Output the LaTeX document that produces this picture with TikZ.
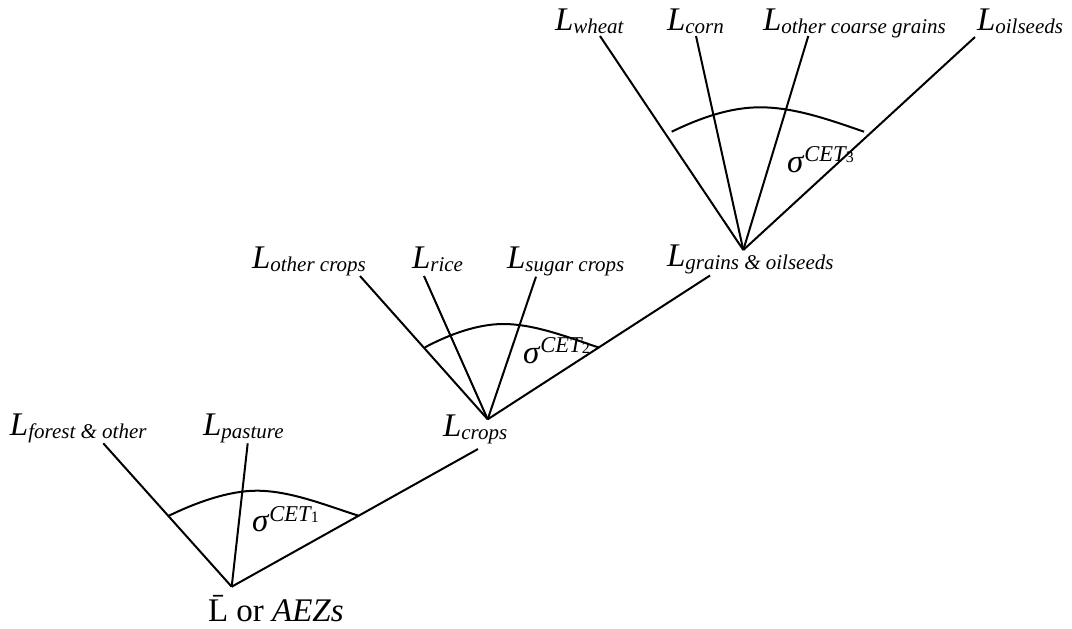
\documentclass[tikz,border=0pt]{standalone}
\usepackage{fontspec}
\setmainfont{Liberation Serif}
\newcommand\Lsub[1]{\textit{L}\raisebox{-1.5pt}{\fontsize{10.5}{12}\selectfont\itshape #1}}
\newcommand\sigcet[1]{\textit{σ}\raisebox{5.3pt}{\fontsize{11.3}{13}\selectfont\itshape CET\raisebox{-0.7pt}{\fontsize{8}{9}\selectfont\upshape #1}}}
\begin{document}
\begin{tikzpicture}[x=0.5pt,y=-0.5pt,
  lab/.style={anchor=base west, inner sep=0pt, outer sep=0pt, font=\fontsize{16.5}{20}\selectfont},
  branch/.style={draw=black, line width=1pt},
  hump/.style={draw=black, line width=1pt}]
\useasboundingbox (0,0) rectangle (1072,628);
% coordinates
\coordinate (r1) at (231.7,586.7);
\coordinate (tf) at (103.3,443.3);
\coordinate (tp) at (247.7,443.3);
\coordinate (e1) at (478,449);
\coordinate (r2) at (487.7,419.3);
\coordinate (toc) at (360,276);
\coordinate (tr) at (424,276);
\coordinate (ts) at (536,276.7);
\coordinate (e2) at (710,275.5);
\coordinate (r3) at (743.3,250);
\coordinate (tw) at (600,36);
\coordinate (tc) at (696,36);
\coordinate (tcg) at (808.3,36);
\coordinate (to) at (975,37);
% labels
\node[lab] (Lforest) at (10,435) {\Lsub{forest \& other}};
\node[lab] (Lpasture) at (203,435) {\Lsub{pasture}};
\node[lab] (Lbar) at (208,621.7) {\=L or \textit{AEZs}};
\node[lab] (Lother) at (252,268) {\Lsub{other crops}};
\node[lab] (Lrice) at (412,268) {\Lsub{rice}};
\node[lab] (Lsugar) at (507,268) {\Lsub{sugar crops}};
\node[lab] (Lcrops) at (443,436) {\Lsub{crops}};
\node[lab] (Lgrains) at (667,266) {\Lsub{grains \& oilseeds}};
\node[lab] (Lwheat) at (555,30) {\Lsub{wheat}};
\node[lab] (Lcorn) at (667,30) {\Lsub{corn}};
\node[lab] (Lcoarse) at (763,30) {\Lsub{other coarse grains}};
\node[lab] (Loil) at (977,30) {\Lsub{oilseeds}};
\node[lab] (s1) at (252,531.7) {\sigcet{1}};
\node[lab] (s2) at (523,363) {\sigcet{2}};
\node[lab] (s3) at (787,172) {\sigcet{3}};
% branches
\draw[branch] (r1) -- (tf);
\draw[branch] (r1) -- (tp);
\draw[branch] (r1) -- (e1);
\draw[branch] (r2) -- (toc);
\draw[branch] (r2) -- (tr);
\draw[branch] (r2) -- (ts);
\draw[branch] (r2) -- (e2);
\draw[branch] (r3) -- (tw);
\draw[branch] (r3) -- (tc);
\draw[branch] (r3) -- (tcg);
\draw[branch] (r3) -- (to);
% humps
\draw[hump] (168.3,516) .. controls (195,503) and (228,490.7) .. (256.7,490.7)
  .. controls (290,490.7) and (325,505) .. (359.3,516);
\draw[hump] (425,347.3) .. controls (450,334) and (478,324) .. (503.3,324)
  .. controls (535,324) and (570,338) .. (599.3,347.7);
\draw[hump] (671.7,131.7) .. controls (700,118) and (730,107.3) .. (760,107.3)
  .. controls (795,107.3) and (830,120) .. (864,131.7);
\end{tikzpicture}
\end{document}
